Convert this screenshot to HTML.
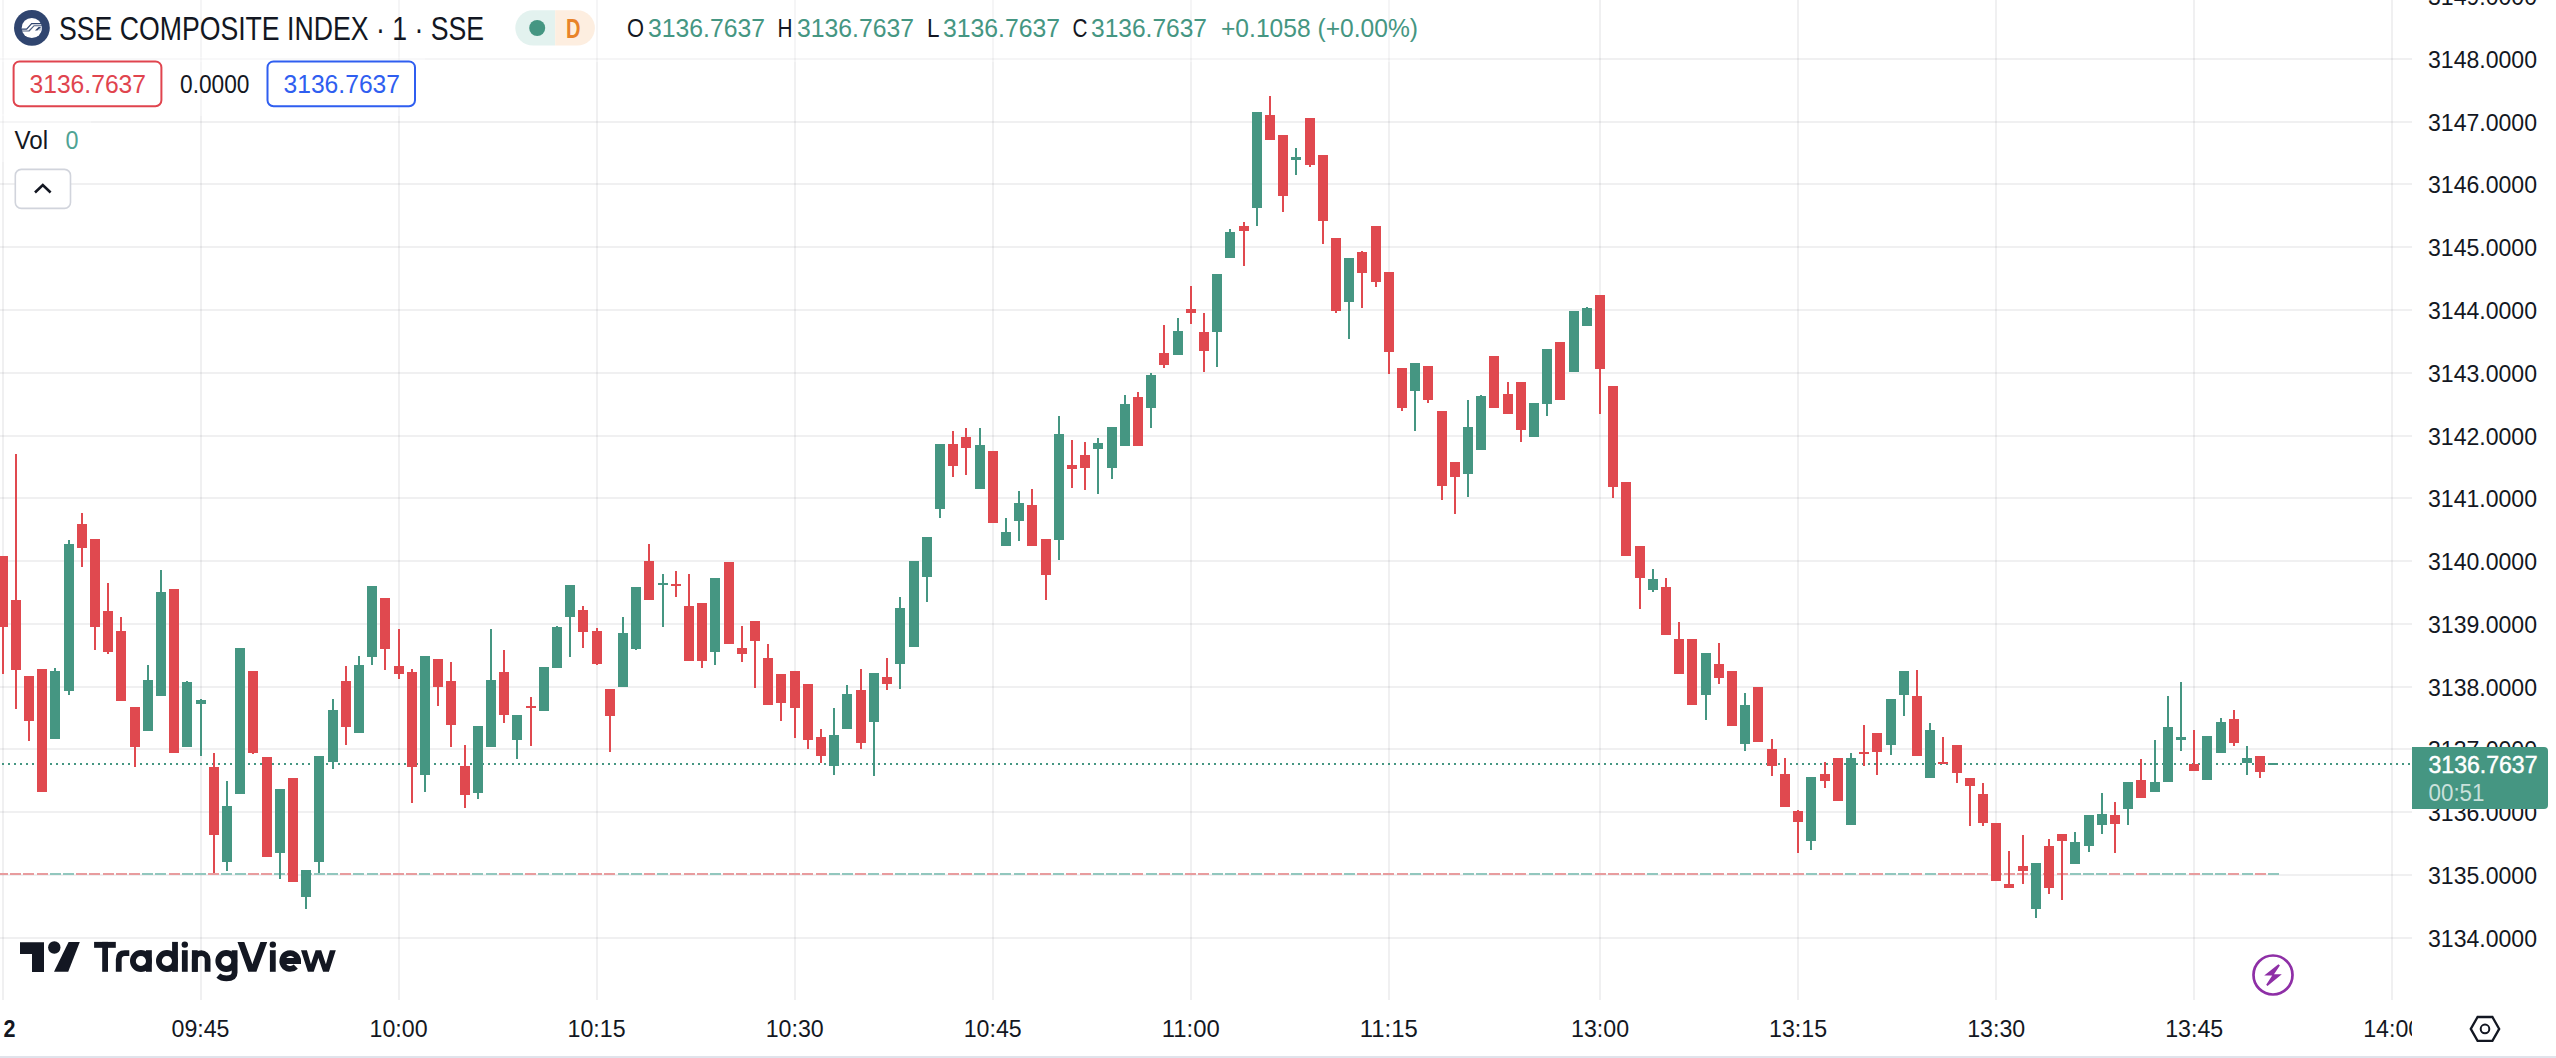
<!DOCTYPE html>
<html><head><meta charset="utf-8">
<style>
html,body{margin:0;padding:0;background:#fff;}
body{width:2556px;height:1058px;overflow:hidden;position:relative;font-family:"Liberation Sans", sans-serif;}
svg{position:absolute;left:0;top:0;}
text{font-family:"Liberation Sans", sans-serif;}
</style></head><body>
<svg width="2556" height="1058" viewBox="0 0 2556 1058">
<g shape-rendering="crispEdges">
<rect x="2" y="0" width="2" height="1000" fill="rgba(42,46,57,0.07)"/>
<rect x="200" y="0" width="2" height="1000" fill="rgba(42,46,57,0.07)"/>
<rect x="398" y="0" width="2" height="1000" fill="rgba(42,46,57,0.07)"/>
<rect x="596" y="0" width="2" height="1000" fill="rgba(42,46,57,0.07)"/>
<rect x="794" y="0" width="2" height="1000" fill="rgba(42,46,57,0.07)"/>
<rect x="992" y="0" width="2" height="1000" fill="rgba(42,46,57,0.07)"/>
<rect x="1190" y="0" width="2" height="1000" fill="rgba(42,46,57,0.07)"/>
<rect x="1388" y="0" width="2" height="1000" fill="rgba(42,46,57,0.07)"/>
<rect x="1599" y="0" width="2" height="1000" fill="rgba(42,46,57,0.07)"/>
<rect x="1797" y="0" width="2" height="1000" fill="rgba(42,46,57,0.07)"/>
<rect x="1995" y="0" width="2" height="1000" fill="rgba(42,46,57,0.07)"/>
<rect x="2193" y="0" width="2" height="1000" fill="rgba(42,46,57,0.07)"/>
<rect x="2391" y="0" width="2" height="1000" fill="rgba(42,46,57,0.07)"/>
<rect x="0" y="937" width="2412" height="2" fill="rgba(42,46,57,0.07)"/>
<rect x="0" y="874" width="2412" height="2" fill="rgba(42,46,57,0.07)"/>
<rect x="0" y="811" width="2412" height="2" fill="rgba(42,46,57,0.07)"/>
<rect x="0" y="748" width="2412" height="2" fill="rgba(42,46,57,0.07)"/>
<rect x="0" y="686" width="2412" height="2" fill="rgba(42,46,57,0.07)"/>
<rect x="0" y="623" width="2412" height="2" fill="rgba(42,46,57,0.07)"/>
<rect x="0" y="560" width="2412" height="2" fill="rgba(42,46,57,0.07)"/>
<rect x="0" y="497" width="2412" height="2" fill="rgba(42,46,57,0.07)"/>
<rect x="0" y="435" width="2412" height="2" fill="rgba(42,46,57,0.07)"/>
<rect x="0" y="372" width="2412" height="2" fill="rgba(42,46,57,0.07)"/>
<rect x="0" y="309" width="2412" height="2" fill="rgba(42,46,57,0.07)"/>
<rect x="0" y="246" width="2412" height="2" fill="rgba(42,46,57,0.07)"/>
<rect x="0" y="183" width="2412" height="2" fill="rgba(42,46,57,0.07)"/>
<rect x="0" y="121" width="2412" height="2" fill="rgba(42,46,57,0.07)"/>
<rect x="0" y="58" width="2412" height="2" fill="rgba(42,46,57,0.07)"/>
<rect x="0" y="-5" width="2412" height="2" fill="rgba(42,46,57,0.07)"/>
<rect x="-3" y="873" width="11" height="2" fill="rgb(232,156,158)"/>
<rect x="10" y="873" width="11" height="2" fill="rgb(232,156,158)"/>
<rect x="23" y="873" width="11" height="2" fill="rgb(232,156,158)"/>
<rect x="37" y="873" width="11" height="2" fill="rgb(232,156,158)"/>
<rect x="50" y="873" width="11" height="2" fill="rgb(146,199,190)"/>
<rect x="63" y="873" width="11" height="2" fill="rgb(146,199,190)"/>
<rect x="76" y="873" width="11" height="2" fill="rgb(232,156,158)"/>
<rect x="89" y="873" width="11" height="2" fill="rgb(232,156,158)"/>
<rect x="103" y="873" width="11" height="2" fill="rgb(232,156,158)"/>
<rect x="116" y="873" width="11" height="2" fill="rgb(232,156,158)"/>
<rect x="129" y="873" width="11" height="2" fill="rgb(232,156,158)"/>
<rect x="142" y="873" width="11" height="2" fill="rgb(146,199,190)"/>
<rect x="155" y="873" width="11" height="2" fill="rgb(146,199,190)"/>
<rect x="169" y="873" width="11" height="2" fill="rgb(232,156,158)"/>
<rect x="182" y="873" width="11" height="2" fill="rgb(146,199,190)"/>
<rect x="195" y="873" width="11" height="2" fill="rgb(146,199,190)"/>
<rect x="208" y="873" width="11" height="2" fill="rgb(232,156,158)"/>
<rect x="221" y="873" width="11" height="2" fill="rgb(146,199,190)"/>
<rect x="235" y="873" width="11" height="2" fill="rgb(146,199,190)"/>
<rect x="248" y="873" width="11" height="2" fill="rgb(232,156,158)"/>
<rect x="261" y="873" width="11" height="2" fill="rgb(232,156,158)"/>
<rect x="274" y="873" width="11" height="2" fill="rgb(146,199,190)"/>
<rect x="287" y="873" width="11" height="2" fill="rgb(232,156,158)"/>
<rect x="301" y="873" width="11" height="2" fill="rgb(146,199,190)"/>
<rect x="314" y="873" width="11" height="2" fill="rgb(146,199,190)"/>
<rect x="327" y="873" width="11" height="2" fill="rgb(146,199,190)"/>
<rect x="340" y="873" width="11" height="2" fill="rgb(232,156,158)"/>
<rect x="353" y="873" width="11" height="2" fill="rgb(146,199,190)"/>
<rect x="367" y="873" width="11" height="2" fill="rgb(146,199,190)"/>
<rect x="380" y="873" width="11" height="2" fill="rgb(232,156,158)"/>
<rect x="393" y="873" width="11" height="2" fill="rgb(232,156,158)"/>
<rect x="406" y="873" width="11" height="2" fill="rgb(232,156,158)"/>
<rect x="419" y="873" width="11" height="2" fill="rgb(146,199,190)"/>
<rect x="433" y="873" width="11" height="2" fill="rgb(232,156,158)"/>
<rect x="446" y="873" width="11" height="2" fill="rgb(232,156,158)"/>
<rect x="459" y="873" width="11" height="2" fill="rgb(232,156,158)"/>
<rect x="472" y="873" width="11" height="2" fill="rgb(146,199,190)"/>
<rect x="486" y="873" width="11" height="2" fill="rgb(146,199,190)"/>
<rect x="499" y="873" width="11" height="2" fill="rgb(232,156,158)"/>
<rect x="512" y="873" width="11" height="2" fill="rgb(146,199,190)"/>
<rect x="525" y="873" width="11" height="2" fill="rgb(232,156,158)"/>
<rect x="538" y="873" width="11" height="2" fill="rgb(146,199,190)"/>
<rect x="552" y="873" width="11" height="2" fill="rgb(146,199,190)"/>
<rect x="565" y="873" width="11" height="2" fill="rgb(146,199,190)"/>
<rect x="578" y="873" width="11" height="2" fill="rgb(232,156,158)"/>
<rect x="591" y="873" width="11" height="2" fill="rgb(232,156,158)"/>
<rect x="604" y="873" width="11" height="2" fill="rgb(232,156,158)"/>
<rect x="618" y="873" width="11" height="2" fill="rgb(146,199,190)"/>
<rect x="631" y="873" width="11" height="2" fill="rgb(146,199,190)"/>
<rect x="644" y="873" width="11" height="2" fill="rgb(232,156,158)"/>
<rect x="657" y="873" width="11" height="2" fill="rgb(146,199,190)"/>
<rect x="670" y="873" width="11" height="2" fill="rgb(232,156,158)"/>
<rect x="684" y="873" width="11" height="2" fill="rgb(232,156,158)"/>
<rect x="697" y="873" width="11" height="2" fill="rgb(232,156,158)"/>
<rect x="710" y="873" width="11" height="2" fill="rgb(146,199,190)"/>
<rect x="723" y="873" width="11" height="2" fill="rgb(232,156,158)"/>
<rect x="736" y="873" width="11" height="2" fill="rgb(232,156,158)"/>
<rect x="750" y="873" width="11" height="2" fill="rgb(232,156,158)"/>
<rect x="763" y="873" width="11" height="2" fill="rgb(232,156,158)"/>
<rect x="776" y="873" width="11" height="2" fill="rgb(232,156,158)"/>
<rect x="789" y="873" width="11" height="2" fill="rgb(232,156,158)"/>
<rect x="802" y="873" width="11" height="2" fill="rgb(232,156,158)"/>
<rect x="816" y="873" width="11" height="2" fill="rgb(232,156,158)"/>
<rect x="829" y="873" width="11" height="2" fill="rgb(146,199,190)"/>
<rect x="842" y="873" width="11" height="2" fill="rgb(146,199,190)"/>
<rect x="855" y="873" width="11" height="2" fill="rgb(232,156,158)"/>
<rect x="868" y="873" width="11" height="2" fill="rgb(146,199,190)"/>
<rect x="882" y="873" width="11" height="2" fill="rgb(232,156,158)"/>
<rect x="895" y="873" width="11" height="2" fill="rgb(146,199,190)"/>
<rect x="908" y="873" width="11" height="2" fill="rgb(146,199,190)"/>
<rect x="921" y="873" width="11" height="2" fill="rgb(146,199,190)"/>
<rect x="934" y="873" width="11" height="2" fill="rgb(146,199,190)"/>
<rect x="948" y="873" width="11" height="2" fill="rgb(232,156,158)"/>
<rect x="961" y="873" width="11" height="2" fill="rgb(232,156,158)"/>
<rect x="974" y="873" width="11" height="2" fill="rgb(146,199,190)"/>
<rect x="987" y="873" width="11" height="2" fill="rgb(232,156,158)"/>
<rect x="1000" y="873" width="11" height="2" fill="rgb(146,199,190)"/>
<rect x="1014" y="873" width="11" height="2" fill="rgb(146,199,190)"/>
<rect x="1027" y="873" width="11" height="2" fill="rgb(232,156,158)"/>
<rect x="1040" y="873" width="11" height="2" fill="rgb(232,156,158)"/>
<rect x="1053" y="873" width="11" height="2" fill="rgb(146,199,190)"/>
<rect x="1066" y="873" width="11" height="2" fill="rgb(232,156,158)"/>
<rect x="1080" y="873" width="11" height="2" fill="rgb(232,156,158)"/>
<rect x="1093" y="873" width="11" height="2" fill="rgb(146,199,190)"/>
<rect x="1106" y="873" width="11" height="2" fill="rgb(146,199,190)"/>
<rect x="1119" y="873" width="11" height="2" fill="rgb(146,199,190)"/>
<rect x="1132" y="873" width="11" height="2" fill="rgb(232,156,158)"/>
<rect x="1146" y="873" width="11" height="2" fill="rgb(146,199,190)"/>
<rect x="1159" y="873" width="11" height="2" fill="rgb(232,156,158)"/>
<rect x="1172" y="873" width="11" height="2" fill="rgb(146,199,190)"/>
<rect x="1185" y="873" width="11" height="2" fill="rgb(232,156,158)"/>
<rect x="1198" y="873" width="11" height="2" fill="rgb(232,156,158)"/>
<rect x="1212" y="873" width="11" height="2" fill="rgb(146,199,190)"/>
<rect x="1225" y="873" width="11" height="2" fill="rgb(146,199,190)"/>
<rect x="1238" y="873" width="11" height="2" fill="rgb(232,156,158)"/>
<rect x="1251" y="873" width="11" height="2" fill="rgb(146,199,190)"/>
<rect x="1264" y="873" width="11" height="2" fill="rgb(232,156,158)"/>
<rect x="1278" y="873" width="11" height="2" fill="rgb(232,156,158)"/>
<rect x="1291" y="873" width="11" height="2" fill="rgb(146,199,190)"/>
<rect x="1304" y="873" width="11" height="2" fill="rgb(232,156,158)"/>
<rect x="1317" y="873" width="11" height="2" fill="rgb(232,156,158)"/>
<rect x="1331" y="873" width="11" height="2" fill="rgb(232,156,158)"/>
<rect x="1344" y="873" width="11" height="2" fill="rgb(146,199,190)"/>
<rect x="1357" y="873" width="11" height="2" fill="rgb(232,156,158)"/>
<rect x="1370" y="873" width="11" height="2" fill="rgb(232,156,158)"/>
<rect x="1383" y="873" width="11" height="2" fill="rgb(232,156,158)"/>
<rect x="1397" y="873" width="11" height="2" fill="rgb(232,156,158)"/>
<rect x="1410" y="873" width="11" height="2" fill="rgb(146,199,190)"/>
<rect x="1423" y="873" width="11" height="2" fill="rgb(232,156,158)"/>
<rect x="1436" y="873" width="11" height="2" fill="rgb(232,156,158)"/>
<rect x="1449" y="873" width="11" height="2" fill="rgb(232,156,158)"/>
<rect x="1463" y="873" width="11" height="2" fill="rgb(146,199,190)"/>
<rect x="1476" y="873" width="11" height="2" fill="rgb(146,199,190)"/>
<rect x="1489" y="873" width="11" height="2" fill="rgb(232,156,158)"/>
<rect x="1502" y="873" width="11" height="2" fill="rgb(232,156,158)"/>
<rect x="1515" y="873" width="11" height="2" fill="rgb(232,156,158)"/>
<rect x="1529" y="873" width="11" height="2" fill="rgb(146,199,190)"/>
<rect x="1542" y="873" width="11" height="2" fill="rgb(146,199,190)"/>
<rect x="1555" y="873" width="11" height="2" fill="rgb(232,156,158)"/>
<rect x="1568" y="873" width="11" height="2" fill="rgb(146,199,190)"/>
<rect x="1581" y="873" width="11" height="2" fill="rgb(146,199,190)"/>
<rect x="1595" y="873" width="11" height="2" fill="rgb(232,156,158)"/>
<rect x="1608" y="873" width="11" height="2" fill="rgb(232,156,158)"/>
<rect x="1621" y="873" width="11" height="2" fill="rgb(232,156,158)"/>
<rect x="1634" y="873" width="11" height="2" fill="rgb(232,156,158)"/>
<rect x="1647" y="873" width="11" height="2" fill="rgb(146,199,190)"/>
<rect x="1661" y="873" width="11" height="2" fill="rgb(232,156,158)"/>
<rect x="1674" y="873" width="11" height="2" fill="rgb(232,156,158)"/>
<rect x="1687" y="873" width="11" height="2" fill="rgb(232,156,158)"/>
<rect x="1700" y="873" width="11" height="2" fill="rgb(146,199,190)"/>
<rect x="1713" y="873" width="11" height="2" fill="rgb(232,156,158)"/>
<rect x="1727" y="873" width="11" height="2" fill="rgb(232,156,158)"/>
<rect x="1740" y="873" width="11" height="2" fill="rgb(146,199,190)"/>
<rect x="1753" y="873" width="11" height="2" fill="rgb(232,156,158)"/>
<rect x="1766" y="873" width="11" height="2" fill="rgb(232,156,158)"/>
<rect x="1779" y="873" width="11" height="2" fill="rgb(232,156,158)"/>
<rect x="1793" y="873" width="11" height="2" fill="rgb(232,156,158)"/>
<rect x="1806" y="873" width="11" height="2" fill="rgb(146,199,190)"/>
<rect x="1819" y="873" width="11" height="2" fill="rgb(232,156,158)"/>
<rect x="1832" y="873" width="11" height="2" fill="rgb(232,156,158)"/>
<rect x="1845" y="873" width="11" height="2" fill="rgb(146,199,190)"/>
<rect x="1859" y="873" width="11" height="2" fill="rgb(232,156,158)"/>
<rect x="1872" y="873" width="11" height="2" fill="rgb(232,156,158)"/>
<rect x="1885" y="873" width="11" height="2" fill="rgb(146,199,190)"/>
<rect x="1898" y="873" width="11" height="2" fill="rgb(146,199,190)"/>
<rect x="1911" y="873" width="11" height="2" fill="rgb(232,156,158)"/>
<rect x="1925" y="873" width="11" height="2" fill="rgb(146,199,190)"/>
<rect x="1938" y="873" width="11" height="2" fill="rgb(232,156,158)"/>
<rect x="1951" y="873" width="11" height="2" fill="rgb(232,156,158)"/>
<rect x="1964" y="873" width="11" height="2" fill="rgb(232,156,158)"/>
<rect x="1977" y="873" width="11" height="2" fill="rgb(232,156,158)"/>
<rect x="1991" y="873" width="11" height="2" fill="rgb(232,156,158)"/>
<rect x="2004" y="873" width="11" height="2" fill="rgb(232,156,158)"/>
<rect x="2017" y="873" width="11" height="2" fill="rgb(232,156,158)"/>
<rect x="2030" y="873" width="11" height="2" fill="rgb(146,199,190)"/>
<rect x="2043" y="873" width="11" height="2" fill="rgb(232,156,158)"/>
<rect x="2057" y="873" width="11" height="2" fill="rgb(232,156,158)"/>
<rect x="2070" y="873" width="11" height="2" fill="rgb(146,199,190)"/>
<rect x="2083" y="873" width="11" height="2" fill="rgb(146,199,190)"/>
<rect x="2096" y="873" width="11" height="2" fill="rgb(146,199,190)"/>
<rect x="2109" y="873" width="11" height="2" fill="rgb(232,156,158)"/>
<rect x="2123" y="873" width="11" height="2" fill="rgb(146,199,190)"/>
<rect x="2136" y="873" width="11" height="2" fill="rgb(232,156,158)"/>
<rect x="2149" y="873" width="11" height="2" fill="rgb(146,199,190)"/>
<rect x="2162" y="873" width="11" height="2" fill="rgb(146,199,190)"/>
<rect x="2175" y="873" width="11" height="2" fill="rgb(146,199,190)"/>
<rect x="2189" y="873" width="11" height="2" fill="rgb(232,156,158)"/>
<rect x="2202" y="873" width="11" height="2" fill="rgb(146,199,190)"/>
<rect x="2215" y="873" width="11" height="2" fill="rgb(146,199,190)"/>
<rect x="2228" y="873" width="11" height="2" fill="rgb(232,156,158)"/>
<rect x="2242" y="873" width="11" height="2" fill="rgb(146,199,190)"/>
<rect x="2255" y="873" width="11" height="2" fill="rgb(232,156,158)"/>
<rect x="2268" y="873" width="11" height="2" fill="rgb(146,199,190)"/>
<line x1="0" y1="764" x2="2412" y2="764" stroke="rgb(69,150,130)" stroke-width="2" stroke-dasharray="2 4" stroke-dashoffset="4"/>
<rect x="2" y="556" width="2" height="118" fill="rgb(224,73,79)"/>
<rect x="-2" y="556" width="10" height="71" fill="rgb(224,73,79)"/>
<rect x="15" y="454" width="2" height="255" fill="rgb(224,73,79)"/>
<rect x="11" y="600" width="10" height="70" fill="rgb(224,73,79)"/>
<rect x="28" y="676" width="2" height="65" fill="rgb(224,73,79)"/>
<rect x="24" y="676" width="10" height="45" fill="rgb(224,73,79)"/>
<rect x="41" y="669" width="2" height="123" fill="rgb(224,73,79)"/>
<rect x="37" y="669" width="10" height="123" fill="rgb(224,73,79)"/>
<rect x="54" y="668" width="2" height="71" fill="rgb(69,150,130)"/>
<rect x="50" y="671" width="10" height="68" fill="rgb(69,150,130)"/>
<rect x="68" y="540" width="2" height="155" fill="rgb(69,150,130)"/>
<rect x="64" y="544" width="10" height="147" fill="rgb(69,150,130)"/>
<rect x="81" y="513" width="2" height="54" fill="rgb(224,73,79)"/>
<rect x="77" y="524" width="10" height="24" fill="rgb(224,73,79)"/>
<rect x="94" y="539" width="2" height="111" fill="rgb(224,73,79)"/>
<rect x="90" y="539" width="10" height="88" fill="rgb(224,73,79)"/>
<rect x="107" y="583" width="2" height="71" fill="rgb(224,73,79)"/>
<rect x="103" y="611" width="10" height="41" fill="rgb(224,73,79)"/>
<rect x="120" y="617" width="2" height="84" fill="rgb(224,73,79)"/>
<rect x="116" y="631" width="10" height="70" fill="rgb(224,73,79)"/>
<rect x="134" y="707" width="2" height="60" fill="rgb(224,73,79)"/>
<rect x="130" y="707" width="10" height="40" fill="rgb(224,73,79)"/>
<rect x="147" y="665" width="2" height="66" fill="rgb(69,150,130)"/>
<rect x="143" y="680" width="10" height="51" fill="rgb(69,150,130)"/>
<rect x="160" y="570" width="2" height="126" fill="rgb(69,150,130)"/>
<rect x="156" y="592" width="10" height="104" fill="rgb(69,150,130)"/>
<rect x="173" y="589" width="2" height="164" fill="rgb(224,73,79)"/>
<rect x="169" y="589" width="10" height="164" fill="rgb(224,73,79)"/>
<rect x="186" y="681" width="2" height="66" fill="rgb(69,150,130)"/>
<rect x="182" y="682" width="10" height="65" fill="rgb(69,150,130)"/>
<rect x="200" y="699" width="2" height="57" fill="rgb(69,150,130)"/>
<rect x="196" y="700" width="10" height="4" fill="rgb(69,150,130)"/>
<rect x="213" y="753" width="2" height="120" fill="rgb(224,73,79)"/>
<rect x="209" y="767" width="10" height="68" fill="rgb(224,73,79)"/>
<rect x="226" y="781" width="2" height="90" fill="rgb(69,150,130)"/>
<rect x="222" y="806" width="10" height="56" fill="rgb(69,150,130)"/>
<rect x="239" y="648" width="2" height="146" fill="rgb(69,150,130)"/>
<rect x="235" y="648" width="10" height="146" fill="rgb(69,150,130)"/>
<rect x="252" y="671" width="2" height="83" fill="rgb(224,73,79)"/>
<rect x="248" y="671" width="10" height="82" fill="rgb(224,73,79)"/>
<rect x="266" y="757" width="2" height="100" fill="rgb(224,73,79)"/>
<rect x="262" y="757" width="10" height="100" fill="rgb(224,73,79)"/>
<rect x="279" y="789" width="2" height="90" fill="rgb(69,150,130)"/>
<rect x="275" y="789" width="10" height="64" fill="rgb(69,150,130)"/>
<rect x="292" y="778" width="2" height="104" fill="rgb(224,73,79)"/>
<rect x="288" y="778" width="10" height="104" fill="rgb(224,73,79)"/>
<rect x="305" y="870" width="2" height="39" fill="rgb(69,150,130)"/>
<rect x="301" y="870" width="10" height="27" fill="rgb(69,150,130)"/>
<rect x="318" y="756" width="2" height="117" fill="rgb(69,150,130)"/>
<rect x="314" y="756" width="10" height="106" fill="rgb(69,150,130)"/>
<rect x="332" y="699" width="2" height="70" fill="rgb(69,150,130)"/>
<rect x="328" y="710" width="10" height="52" fill="rgb(69,150,130)"/>
<rect x="345" y="666" width="2" height="79" fill="rgb(224,73,79)"/>
<rect x="341" y="681" width="10" height="46" fill="rgb(224,73,79)"/>
<rect x="358" y="656" width="2" height="77" fill="rgb(69,150,130)"/>
<rect x="354" y="665" width="10" height="68" fill="rgb(69,150,130)"/>
<rect x="371" y="586" width="2" height="79" fill="rgb(69,150,130)"/>
<rect x="367" y="586" width="10" height="71" fill="rgb(69,150,130)"/>
<rect x="384" y="598" width="2" height="72" fill="rgb(224,73,79)"/>
<rect x="380" y="598" width="10" height="51" fill="rgb(224,73,79)"/>
<rect x="398" y="629" width="2" height="50" fill="rgb(224,73,79)"/>
<rect x="394" y="666" width="10" height="8" fill="rgb(224,73,79)"/>
<rect x="411" y="669" width="2" height="134" fill="rgb(224,73,79)"/>
<rect x="407" y="672" width="10" height="95" fill="rgb(224,73,79)"/>
<rect x="424" y="656" width="2" height="136" fill="rgb(69,150,130)"/>
<rect x="420" y="656" width="10" height="119" fill="rgb(69,150,130)"/>
<rect x="437" y="659" width="2" height="47" fill="rgb(224,73,79)"/>
<rect x="433" y="659" width="10" height="28" fill="rgb(224,73,79)"/>
<rect x="450" y="662" width="2" height="85" fill="rgb(224,73,79)"/>
<rect x="446" y="681" width="10" height="44" fill="rgb(224,73,79)"/>
<rect x="464" y="745" width="2" height="63" fill="rgb(224,73,79)"/>
<rect x="460" y="766" width="10" height="29" fill="rgb(224,73,79)"/>
<rect x="477" y="726" width="2" height="73" fill="rgb(69,150,130)"/>
<rect x="473" y="726" width="10" height="67" fill="rgb(69,150,130)"/>
<rect x="490" y="629" width="2" height="118" fill="rgb(69,150,130)"/>
<rect x="486" y="680" width="10" height="67" fill="rgb(69,150,130)"/>
<rect x="503" y="650" width="2" height="73" fill="rgb(224,73,79)"/>
<rect x="499" y="672" width="10" height="43" fill="rgb(224,73,79)"/>
<rect x="516" y="715" width="2" height="44" fill="rgb(69,150,130)"/>
<rect x="512" y="715" width="10" height="25" fill="rgb(69,150,130)"/>
<rect x="530" y="697" width="2" height="49" fill="rgb(224,73,79)"/>
<rect x="526" y="706" width="10" height="2" fill="rgb(224,73,79)"/>
<rect x="543" y="667" width="2" height="44" fill="rgb(69,150,130)"/>
<rect x="539" y="667" width="10" height="44" fill="rgb(69,150,130)"/>
<rect x="556" y="626" width="2" height="42" fill="rgb(69,150,130)"/>
<rect x="552" y="627" width="10" height="41" fill="rgb(69,150,130)"/>
<rect x="569" y="585" width="2" height="72" fill="rgb(69,150,130)"/>
<rect x="565" y="585" width="10" height="32" fill="rgb(69,150,130)"/>
<rect x="582" y="606" width="2" height="42" fill="rgb(224,73,79)"/>
<rect x="578" y="610" width="10" height="22" fill="rgb(224,73,79)"/>
<rect x="596" y="628" width="2" height="37" fill="rgb(224,73,79)"/>
<rect x="592" y="631" width="10" height="33" fill="rgb(224,73,79)"/>
<rect x="609" y="689" width="2" height="63" fill="rgb(224,73,79)"/>
<rect x="605" y="689" width="10" height="27" fill="rgb(224,73,79)"/>
<rect x="622" y="617" width="2" height="70" fill="rgb(69,150,130)"/>
<rect x="618" y="633" width="10" height="54" fill="rgb(69,150,130)"/>
<rect x="635" y="587" width="2" height="63" fill="rgb(69,150,130)"/>
<rect x="631" y="587" width="10" height="62" fill="rgb(69,150,130)"/>
<rect x="648" y="544" width="2" height="56" fill="rgb(224,73,79)"/>
<rect x="644" y="561" width="10" height="39" fill="rgb(224,73,79)"/>
<rect x="662" y="574" width="2" height="53" fill="rgb(69,150,130)"/>
<rect x="658" y="583" width="10" height="2" fill="rgb(69,150,130)"/>
<rect x="675" y="571" width="2" height="26" fill="rgb(224,73,79)"/>
<rect x="671" y="584" width="10" height="2" fill="rgb(224,73,79)"/>
<rect x="688" y="574" width="2" height="87" fill="rgb(224,73,79)"/>
<rect x="684" y="606" width="10" height="55" fill="rgb(224,73,79)"/>
<rect x="701" y="603" width="2" height="65" fill="rgb(224,73,79)"/>
<rect x="697" y="603" width="10" height="58" fill="rgb(224,73,79)"/>
<rect x="714" y="578" width="2" height="87" fill="rgb(69,150,130)"/>
<rect x="710" y="578" width="10" height="74" fill="rgb(69,150,130)"/>
<rect x="728" y="562" width="2" height="82" fill="rgb(224,73,79)"/>
<rect x="724" y="562" width="10" height="82" fill="rgb(224,73,79)"/>
<rect x="741" y="626" width="2" height="36" fill="rgb(224,73,79)"/>
<rect x="737" y="648" width="10" height="6" fill="rgb(224,73,79)"/>
<rect x="754" y="621" width="2" height="67" fill="rgb(224,73,79)"/>
<rect x="750" y="621" width="10" height="20" fill="rgb(224,73,79)"/>
<rect x="767" y="644" width="2" height="61" fill="rgb(224,73,79)"/>
<rect x="763" y="658" width="10" height="47" fill="rgb(224,73,79)"/>
<rect x="780" y="674" width="2" height="47" fill="rgb(224,73,79)"/>
<rect x="776" y="674" width="10" height="29" fill="rgb(224,73,79)"/>
<rect x="794" y="671" width="2" height="67" fill="rgb(224,73,79)"/>
<rect x="790" y="671" width="10" height="37" fill="rgb(224,73,79)"/>
<rect x="807" y="684" width="2" height="65" fill="rgb(224,73,79)"/>
<rect x="803" y="684" width="10" height="56" fill="rgb(224,73,79)"/>
<rect x="820" y="729" width="2" height="34" fill="rgb(224,73,79)"/>
<rect x="816" y="737" width="10" height="19" fill="rgb(224,73,79)"/>
<rect x="833" y="708" width="2" height="67" fill="rgb(69,150,130)"/>
<rect x="829" y="735" width="10" height="31" fill="rgb(69,150,130)"/>
<rect x="846" y="685" width="2" height="44" fill="rgb(69,150,130)"/>
<rect x="842" y="694" width="10" height="35" fill="rgb(69,150,130)"/>
<rect x="860" y="669" width="2" height="80" fill="rgb(224,73,79)"/>
<rect x="856" y="690" width="10" height="53" fill="rgb(224,73,79)"/>
<rect x="873" y="673" width="2" height="103" fill="rgb(69,150,130)"/>
<rect x="869" y="673" width="10" height="49" fill="rgb(69,150,130)"/>
<rect x="886" y="658" width="2" height="32" fill="rgb(224,73,79)"/>
<rect x="882" y="677" width="10" height="7" fill="rgb(224,73,79)"/>
<rect x="899" y="597" width="2" height="92" fill="rgb(69,150,130)"/>
<rect x="895" y="608" width="10" height="56" fill="rgb(69,150,130)"/>
<rect x="913" y="561" width="2" height="86" fill="rgb(69,150,130)"/>
<rect x="909" y="561" width="10" height="86" fill="rgb(69,150,130)"/>
<rect x="926" y="537" width="2" height="65" fill="rgb(69,150,130)"/>
<rect x="922" y="537" width="10" height="40" fill="rgb(69,150,130)"/>
<rect x="939" y="444" width="2" height="74" fill="rgb(69,150,130)"/>
<rect x="935" y="444" width="10" height="65" fill="rgb(69,150,130)"/>
<rect x="952" y="431" width="2" height="46" fill="rgb(224,73,79)"/>
<rect x="948" y="444" width="10" height="22" fill="rgb(224,73,79)"/>
<rect x="965" y="428" width="2" height="47" fill="rgb(224,73,79)"/>
<rect x="961" y="437" width="10" height="11" fill="rgb(224,73,79)"/>
<rect x="979" y="428" width="2" height="61" fill="rgb(69,150,130)"/>
<rect x="975" y="445" width="10" height="44" fill="rgb(69,150,130)"/>
<rect x="992" y="451" width="2" height="72" fill="rgb(224,73,79)"/>
<rect x="988" y="451" width="10" height="72" fill="rgb(224,73,79)"/>
<rect x="1005" y="518" width="2" height="28" fill="rgb(69,150,130)"/>
<rect x="1001" y="532" width="10" height="14" fill="rgb(69,150,130)"/>
<rect x="1018" y="491" width="2" height="50" fill="rgb(69,150,130)"/>
<rect x="1014" y="503" width="10" height="18" fill="rgb(69,150,130)"/>
<rect x="1031" y="489" width="2" height="57" fill="rgb(224,73,79)"/>
<rect x="1027" y="505" width="10" height="41" fill="rgb(224,73,79)"/>
<rect x="1045" y="539" width="2" height="61" fill="rgb(224,73,79)"/>
<rect x="1041" y="539" width="10" height="36" fill="rgb(224,73,79)"/>
<rect x="1058" y="416" width="2" height="144" fill="rgb(69,150,130)"/>
<rect x="1054" y="434" width="10" height="106" fill="rgb(69,150,130)"/>
<rect x="1071" y="440" width="2" height="48" fill="rgb(224,73,79)"/>
<rect x="1067" y="465" width="10" height="4" fill="rgb(224,73,79)"/>
<rect x="1084" y="442" width="2" height="48" fill="rgb(224,73,79)"/>
<rect x="1080" y="455" width="10" height="13" fill="rgb(224,73,79)"/>
<rect x="1097" y="438" width="2" height="56" fill="rgb(69,150,130)"/>
<rect x="1093" y="443" width="10" height="6" fill="rgb(69,150,130)"/>
<rect x="1111" y="427" width="2" height="52" fill="rgb(69,150,130)"/>
<rect x="1107" y="427" width="10" height="41" fill="rgb(69,150,130)"/>
<rect x="1124" y="395" width="2" height="51" fill="rgb(69,150,130)"/>
<rect x="1120" y="404" width="10" height="42" fill="rgb(69,150,130)"/>
<rect x="1137" y="392" width="2" height="54" fill="rgb(224,73,79)"/>
<rect x="1133" y="397" width="10" height="49" fill="rgb(224,73,79)"/>
<rect x="1150" y="373" width="2" height="55" fill="rgb(69,150,130)"/>
<rect x="1146" y="375" width="10" height="33" fill="rgb(69,150,130)"/>
<rect x="1163" y="325" width="2" height="43" fill="rgb(224,73,79)"/>
<rect x="1159" y="353" width="10" height="12" fill="rgb(224,73,79)"/>
<rect x="1177" y="318" width="2" height="37" fill="rgb(69,150,130)"/>
<rect x="1173" y="331" width="10" height="24" fill="rgb(69,150,130)"/>
<rect x="1190" y="286" width="2" height="38" fill="rgb(224,73,79)"/>
<rect x="1186" y="309" width="10" height="4" fill="rgb(224,73,79)"/>
<rect x="1203" y="313" width="2" height="59" fill="rgb(224,73,79)"/>
<rect x="1199" y="332" width="10" height="19" fill="rgb(224,73,79)"/>
<rect x="1216" y="274" width="2" height="93" fill="rgb(69,150,130)"/>
<rect x="1212" y="274" width="10" height="58" fill="rgb(69,150,130)"/>
<rect x="1229" y="229" width="2" height="29" fill="rgb(69,150,130)"/>
<rect x="1225" y="232" width="10" height="26" fill="rgb(69,150,130)"/>
<rect x="1243" y="222" width="2" height="44" fill="rgb(224,73,79)"/>
<rect x="1239" y="226" width="10" height="5" fill="rgb(224,73,79)"/>
<rect x="1256" y="112" width="2" height="114" fill="rgb(69,150,130)"/>
<rect x="1252" y="112" width="10" height="96" fill="rgb(69,150,130)"/>
<rect x="1269" y="96" width="2" height="44" fill="rgb(224,73,79)"/>
<rect x="1265" y="115" width="10" height="25" fill="rgb(224,73,79)"/>
<rect x="1282" y="135" width="2" height="77" fill="rgb(224,73,79)"/>
<rect x="1278" y="135" width="10" height="61" fill="rgb(224,73,79)"/>
<rect x="1295" y="148" width="2" height="27" fill="rgb(69,150,130)"/>
<rect x="1291" y="157" width="10" height="3" fill="rgb(69,150,130)"/>
<rect x="1309" y="118" width="2" height="49" fill="rgb(224,73,79)"/>
<rect x="1305" y="118" width="10" height="47" fill="rgb(224,73,79)"/>
<rect x="1322" y="155" width="2" height="89" fill="rgb(224,73,79)"/>
<rect x="1318" y="155" width="10" height="66" fill="rgb(224,73,79)"/>
<rect x="1335" y="238" width="2" height="75" fill="rgb(224,73,79)"/>
<rect x="1331" y="238" width="10" height="73" fill="rgb(224,73,79)"/>
<rect x="1348" y="258" width="2" height="81" fill="rgb(69,150,130)"/>
<rect x="1344" y="258" width="10" height="44" fill="rgb(69,150,130)"/>
<rect x="1361" y="251" width="2" height="57" fill="rgb(224,73,79)"/>
<rect x="1357" y="252" width="10" height="21" fill="rgb(224,73,79)"/>
<rect x="1375" y="226" width="2" height="61" fill="rgb(224,73,79)"/>
<rect x="1371" y="226" width="10" height="56" fill="rgb(224,73,79)"/>
<rect x="1388" y="272" width="2" height="102" fill="rgb(224,73,79)"/>
<rect x="1384" y="272" width="10" height="80" fill="rgb(224,73,79)"/>
<rect x="1401" y="368" width="2" height="43" fill="rgb(224,73,79)"/>
<rect x="1397" y="368" width="10" height="40" fill="rgb(224,73,79)"/>
<rect x="1414" y="363" width="2" height="68" fill="rgb(69,150,130)"/>
<rect x="1410" y="363" width="10" height="28" fill="rgb(69,150,130)"/>
<rect x="1427" y="366" width="2" height="37" fill="rgb(224,73,79)"/>
<rect x="1423" y="366" width="10" height="34" fill="rgb(224,73,79)"/>
<rect x="1441" y="411" width="2" height="89" fill="rgb(224,73,79)"/>
<rect x="1437" y="411" width="10" height="75" fill="rgb(224,73,79)"/>
<rect x="1454" y="462" width="2" height="52" fill="rgb(224,73,79)"/>
<rect x="1450" y="462" width="10" height="15" fill="rgb(224,73,79)"/>
<rect x="1467" y="400" width="2" height="97" fill="rgb(69,150,130)"/>
<rect x="1463" y="427" width="10" height="47" fill="rgb(69,150,130)"/>
<rect x="1480" y="395" width="2" height="55" fill="rgb(69,150,130)"/>
<rect x="1476" y="396" width="10" height="54" fill="rgb(69,150,130)"/>
<rect x="1493" y="356" width="2" height="52" fill="rgb(224,73,79)"/>
<rect x="1489" y="356" width="10" height="52" fill="rgb(224,73,79)"/>
<rect x="1507" y="382" width="2" height="32" fill="rgb(224,73,79)"/>
<rect x="1503" y="394" width="10" height="20" fill="rgb(224,73,79)"/>
<rect x="1520" y="382" width="2" height="60" fill="rgb(224,73,79)"/>
<rect x="1516" y="382" width="10" height="48" fill="rgb(224,73,79)"/>
<rect x="1533" y="403" width="2" height="34" fill="rgb(69,150,130)"/>
<rect x="1529" y="403" width="10" height="34" fill="rgb(69,150,130)"/>
<rect x="1546" y="349" width="2" height="67" fill="rgb(69,150,130)"/>
<rect x="1542" y="349" width="10" height="55" fill="rgb(69,150,130)"/>
<rect x="1559" y="342" width="2" height="58" fill="rgb(224,73,79)"/>
<rect x="1555" y="342" width="10" height="58" fill="rgb(224,73,79)"/>
<rect x="1573" y="311" width="2" height="61" fill="rgb(69,150,130)"/>
<rect x="1569" y="311" width="10" height="61" fill="rgb(69,150,130)"/>
<rect x="1586" y="307" width="2" height="19" fill="rgb(69,150,130)"/>
<rect x="1582" y="308" width="10" height="18" fill="rgb(69,150,130)"/>
<rect x="1599" y="295" width="2" height="119" fill="rgb(224,73,79)"/>
<rect x="1595" y="295" width="10" height="74" fill="rgb(224,73,79)"/>
<rect x="1612" y="386" width="2" height="112" fill="rgb(224,73,79)"/>
<rect x="1608" y="386" width="10" height="101" fill="rgb(224,73,79)"/>
<rect x="1625" y="482" width="2" height="74" fill="rgb(224,73,79)"/>
<rect x="1621" y="482" width="10" height="74" fill="rgb(224,73,79)"/>
<rect x="1639" y="546" width="2" height="63" fill="rgb(224,73,79)"/>
<rect x="1635" y="546" width="10" height="32" fill="rgb(224,73,79)"/>
<rect x="1652" y="569" width="2" height="23" fill="rgb(69,150,130)"/>
<rect x="1648" y="579" width="10" height="11" fill="rgb(69,150,130)"/>
<rect x="1665" y="578" width="2" height="57" fill="rgb(224,73,79)"/>
<rect x="1661" y="587" width="10" height="48" fill="rgb(224,73,79)"/>
<rect x="1678" y="622" width="2" height="52" fill="rgb(224,73,79)"/>
<rect x="1674" y="639" width="10" height="35" fill="rgb(224,73,79)"/>
<rect x="1691" y="639" width="2" height="66" fill="rgb(224,73,79)"/>
<rect x="1687" y="639" width="10" height="66" fill="rgb(224,73,79)"/>
<rect x="1705" y="653" width="2" height="67" fill="rgb(69,150,130)"/>
<rect x="1701" y="653" width="10" height="42" fill="rgb(69,150,130)"/>
<rect x="1718" y="643" width="2" height="41" fill="rgb(224,73,79)"/>
<rect x="1714" y="664" width="10" height="14" fill="rgb(224,73,79)"/>
<rect x="1731" y="671" width="2" height="55" fill="rgb(224,73,79)"/>
<rect x="1727" y="671" width="10" height="55" fill="rgb(224,73,79)"/>
<rect x="1744" y="693" width="2" height="58" fill="rgb(69,150,130)"/>
<rect x="1740" y="705" width="10" height="39" fill="rgb(69,150,130)"/>
<rect x="1757" y="687" width="2" height="55" fill="rgb(224,73,79)"/>
<rect x="1753" y="687" width="10" height="55" fill="rgb(224,73,79)"/>
<rect x="1771" y="739" width="2" height="37" fill="rgb(224,73,79)"/>
<rect x="1767" y="749" width="10" height="17" fill="rgb(224,73,79)"/>
<rect x="1784" y="758" width="2" height="49" fill="rgb(224,73,79)"/>
<rect x="1780" y="774" width="10" height="33" fill="rgb(224,73,79)"/>
<rect x="1797" y="810" width="2" height="43" fill="rgb(224,73,79)"/>
<rect x="1793" y="811" width="10" height="11" fill="rgb(224,73,79)"/>
<rect x="1810" y="777" width="2" height="73" fill="rgb(69,150,130)"/>
<rect x="1806" y="777" width="10" height="64" fill="rgb(69,150,130)"/>
<rect x="1824" y="762" width="2" height="26" fill="rgb(224,73,79)"/>
<rect x="1820" y="774" width="10" height="7" fill="rgb(224,73,79)"/>
<rect x="1837" y="758" width="2" height="43" fill="rgb(224,73,79)"/>
<rect x="1833" y="758" width="10" height="43" fill="rgb(224,73,79)"/>
<rect x="1850" y="753" width="2" height="72" fill="rgb(69,150,130)"/>
<rect x="1846" y="758" width="10" height="67" fill="rgb(69,150,130)"/>
<rect x="1863" y="725" width="2" height="41" fill="rgb(224,73,79)"/>
<rect x="1859" y="752" width="10" height="2" fill="rgb(224,73,79)"/>
<rect x="1876" y="733" width="2" height="42" fill="rgb(224,73,79)"/>
<rect x="1872" y="733" width="10" height="19" fill="rgb(224,73,79)"/>
<rect x="1890" y="699" width="2" height="56" fill="rgb(69,150,130)"/>
<rect x="1886" y="699" width="10" height="46" fill="rgb(69,150,130)"/>
<rect x="1903" y="671" width="2" height="45" fill="rgb(69,150,130)"/>
<rect x="1899" y="671" width="10" height="24" fill="rgb(69,150,130)"/>
<rect x="1916" y="670" width="2" height="86" fill="rgb(224,73,79)"/>
<rect x="1912" y="696" width="10" height="60" fill="rgb(224,73,79)"/>
<rect x="1929" y="723" width="2" height="55" fill="rgb(69,150,130)"/>
<rect x="1925" y="730" width="10" height="48" fill="rgb(69,150,130)"/>
<rect x="1942" y="737" width="2" height="27" fill="rgb(224,73,79)"/>
<rect x="1938" y="762" width="10" height="2" fill="rgb(224,73,79)"/>
<rect x="1956" y="745" width="2" height="38" fill="rgb(224,73,79)"/>
<rect x="1952" y="745" width="10" height="28" fill="rgb(224,73,79)"/>
<rect x="1969" y="778" width="2" height="48" fill="rgb(224,73,79)"/>
<rect x="1965" y="778" width="10" height="8" fill="rgb(224,73,79)"/>
<rect x="1982" y="783" width="2" height="43" fill="rgb(224,73,79)"/>
<rect x="1978" y="794" width="10" height="29" fill="rgb(224,73,79)"/>
<rect x="1995" y="823" width="2" height="58" fill="rgb(224,73,79)"/>
<rect x="1991" y="823" width="10" height="58" fill="rgb(224,73,79)"/>
<rect x="2008" y="851" width="2" height="37" fill="rgb(224,73,79)"/>
<rect x="2004" y="884" width="10" height="4" fill="rgb(224,73,79)"/>
<rect x="2022" y="835" width="2" height="49" fill="rgb(224,73,79)"/>
<rect x="2018" y="866" width="10" height="5" fill="rgb(224,73,79)"/>
<rect x="2035" y="863" width="2" height="55" fill="rgb(69,150,130)"/>
<rect x="2031" y="863" width="10" height="46" fill="rgb(69,150,130)"/>
<rect x="2048" y="839" width="2" height="55" fill="rgb(224,73,79)"/>
<rect x="2044" y="846" width="10" height="42" fill="rgb(224,73,79)"/>
<rect x="2061" y="834" width="2" height="66" fill="rgb(224,73,79)"/>
<rect x="2057" y="834" width="10" height="7" fill="rgb(224,73,79)"/>
<rect x="2074" y="832" width="2" height="32" fill="rgb(69,150,130)"/>
<rect x="2070" y="842" width="10" height="22" fill="rgb(69,150,130)"/>
<rect x="2088" y="815" width="2" height="37" fill="rgb(69,150,130)"/>
<rect x="2084" y="815" width="10" height="31" fill="rgb(69,150,130)"/>
<rect x="2101" y="793" width="2" height="41" fill="rgb(69,150,130)"/>
<rect x="2097" y="814" width="10" height="11" fill="rgb(69,150,130)"/>
<rect x="2114" y="802" width="2" height="51" fill="rgb(224,73,79)"/>
<rect x="2110" y="815" width="10" height="9" fill="rgb(224,73,79)"/>
<rect x="2127" y="782" width="2" height="43" fill="rgb(69,150,130)"/>
<rect x="2123" y="782" width="10" height="27" fill="rgb(69,150,130)"/>
<rect x="2140" y="759" width="2" height="39" fill="rgb(224,73,79)"/>
<rect x="2136" y="780" width="10" height="18" fill="rgb(224,73,79)"/>
<rect x="2154" y="740" width="2" height="52" fill="rgb(69,150,130)"/>
<rect x="2150" y="782" width="10" height="10" fill="rgb(69,150,130)"/>
<rect x="2167" y="696" width="2" height="86" fill="rgb(69,150,130)"/>
<rect x="2163" y="727" width="10" height="55" fill="rgb(69,150,130)"/>
<rect x="2180" y="682" width="2" height="69" fill="rgb(69,150,130)"/>
<rect x="2176" y="737" width="10" height="3" fill="rgb(69,150,130)"/>
<rect x="2193" y="730" width="2" height="41" fill="rgb(224,73,79)"/>
<rect x="2189" y="764" width="10" height="7" fill="rgb(224,73,79)"/>
<rect x="2206" y="736" width="2" height="44" fill="rgb(69,150,130)"/>
<rect x="2202" y="736" width="10" height="44" fill="rgb(69,150,130)"/>
<rect x="2220" y="718" width="2" height="35" fill="rgb(69,150,130)"/>
<rect x="2216" y="722" width="10" height="31" fill="rgb(69,150,130)"/>
<rect x="2233" y="710" width="2" height="36" fill="rgb(224,73,79)"/>
<rect x="2229" y="719" width="10" height="24" fill="rgb(224,73,79)"/>
<rect x="2246" y="746" width="2" height="29" fill="rgb(69,150,130)"/>
<rect x="2242" y="758" width="10" height="5" fill="rgb(69,150,130)"/>
<rect x="2259" y="756" width="2" height="22" fill="rgb(224,73,79)"/>
<rect x="2255" y="756" width="10" height="16" fill="rgb(224,73,79)"/>
<rect x="2272" y="763" width="2" height="2" fill="rgb(69,150,130)"/>
<rect x="2268" y="763" width="10" height="2" fill="rgb(69,150,130)"/>
</g>
<rect x="0" y="0" width="1420" height="62" fill="#fff" fill-opacity="0.35"/>
<rect x="0" y="57" width="425" height="59" fill="#fff" fill-opacity="0.35"/>
<rect x="0" y="114" width="91" height="48" fill="#fff" fill-opacity="0.35"/>
<!-- header -->
<g>
<circle cx="31.9" cy="27.9" r="17.9" fill="#30456f"/>
<circle cx="31.8" cy="28" r="10.1" fill="#fff"/>
<path d="M22 28.6 L26.4 28.6 L31.4 23 L41.8 23 L41.8 24.2 L31.9 24.2 L26.9 29.8 L22 29.8 Z" fill="#30456f"/>
<path d="M22 30.4 L28.5 30.4 L33.8 25.2 L41.9 25.2 L41.9 26.3 L34.3 26.3 L29.5 31.4 L22 31.4 Z" fill="#30456f" fill-opacity="0.85"/>
<path d="M38.6 26.3 L41.9 26.3 L41.9 30.6 L38.6 30.6 Z" fill="#c9d0dd"/>
<path d="M34.9 30.6 L38.6 26.9 L41 26.9 L37.4 30.6 Z" fill="#30456f"/>
<text x="59" y="40.1" font-size="33" fill="#131722" text-anchor="start" font-weight="normal" textLength="425" lengthAdjust="spacingAndGlyphs" >SSE COMPOSITE INDEX · 1 · SSE</text>
<path d="M533 10.2 H555.2 V45.6 H533 A17.7 17.7 0 0 1 533 10.2 Z" fill="#e3f2ef"/>
<path d="M555.2 10.2 H577.2 A17.7 17.7 0 0 1 577.2 45.6 H555.2 Z" fill="#fdeee0"/>
<circle cx="537.2" cy="28" r="8" fill="rgb(69,150,130)"/>
<text x="566" y="37.6" font-size="27" fill="#e8832a" text-anchor="start" font-weight="bold" textLength="14.5" lengthAdjust="spacingAndGlyphs" >D</text>
<text x="627" y="36.6" font-size="25" fill="#131722" text-anchor="start" font-weight="normal" textLength="17" lengthAdjust="spacingAndGlyphs" >O</text>
<text x="648" y="36.6" font-size="25" fill="rgb(69,150,130)" text-anchor="start" font-weight="normal" textLength="117" lengthAdjust="spacingAndGlyphs" >3136.7637</text>
<text x="777.5" y="36.6" font-size="25" fill="#131722" text-anchor="start" font-weight="normal" textLength="15" lengthAdjust="spacingAndGlyphs" >H</text>
<text x="797" y="36.6" font-size="25" fill="rgb(69,150,130)" text-anchor="start" font-weight="normal" textLength="117" lengthAdjust="spacingAndGlyphs" >3136.7637</text>
<text x="927" y="36.6" font-size="25" fill="#131722" text-anchor="start" font-weight="normal" textLength="12.5" lengthAdjust="spacingAndGlyphs" >L</text>
<text x="943" y="36.6" font-size="25" fill="rgb(69,150,130)" text-anchor="start" font-weight="normal" textLength="117" lengthAdjust="spacingAndGlyphs" >3136.7637</text>
<text x="1072.5" y="36.6" font-size="25" fill="#131722" text-anchor="start" font-weight="normal" textLength="15" lengthAdjust="spacingAndGlyphs" >C</text>
<text x="1091" y="36.6" font-size="25" fill="rgb(69,150,130)" text-anchor="start" font-weight="normal" textLength="116" lengthAdjust="spacingAndGlyphs" >3136.7637</text>
<text x="1221" y="36.6" font-size="25" fill="rgb(69,150,130)" text-anchor="start" font-weight="normal" textLength="197" lengthAdjust="spacingAndGlyphs" >+0.1058 (+0.00%)</text>
<rect x="13.6" y="61.4" width="147.8" height="44.8" rx="6" fill="#fff" stroke="#e0444e" stroke-width="2"/>
<text x="29.5" y="93" font-size="26" fill="#e0444e" text-anchor="start" font-weight="normal" textLength="116.5" lengthAdjust="spacingAndGlyphs" >3136.7637</text>
<text x="180" y="93" font-size="26" fill="#131722" text-anchor="start" font-weight="normal" textLength="69.5" lengthAdjust="spacingAndGlyphs" >0.0000</text>
<rect x="267.5" y="61.4" width="147.5" height="44.8" rx="6" fill="#fff" stroke="#2f5ef0" stroke-width="2"/>
<text x="283.5" y="93" font-size="26" fill="#2f5ef0" text-anchor="start" font-weight="normal" textLength="116.5" lengthAdjust="spacingAndGlyphs" >3136.7637</text>
<text x="14.6" y="148.7" font-size="25" fill="#131722" text-anchor="start" font-weight="normal" textLength="33.5" lengthAdjust="spacingAndGlyphs" >Vol</text>
<text x="65.5" y="148.7" font-size="25" fill="#4fa394" text-anchor="start" font-weight="normal" textLength="13" lengthAdjust="spacingAndGlyphs" >0</text>
<rect x="15.3" y="169.4" width="55.2" height="39" rx="6" fill="#fff" stroke="#d1d4dc" stroke-width="1.6"/>
<path d="M35 192.5 L42.8 185 L50.6 192.5" stroke="#131722" stroke-width="2.6" fill="none"/>
</g>
<text x="2428" y="946.8" font-size="23" fill="#131722" text-anchor="start" font-weight="normal" textLength="109" lengthAdjust="spacingAndGlyphs" >3134.0000</text>
<text x="2428" y="884.0" font-size="23" fill="#131722" text-anchor="start" font-weight="normal" textLength="109" lengthAdjust="spacingAndGlyphs" >3135.0000</text>
<text x="2428" y="821.2" font-size="23" fill="#131722" text-anchor="start" font-weight="normal" textLength="109" lengthAdjust="spacingAndGlyphs" >3136.0000</text>
<text x="2428" y="758.4" font-size="23" fill="#131722" text-anchor="start" font-weight="normal" textLength="109" lengthAdjust="spacingAndGlyphs" >3137.0000</text>
<text x="2428" y="695.7" font-size="23" fill="#131722" text-anchor="start" font-weight="normal" textLength="109" lengthAdjust="spacingAndGlyphs" >3138.0000</text>
<text x="2428" y="632.9" font-size="23" fill="#131722" text-anchor="start" font-weight="normal" textLength="109" lengthAdjust="spacingAndGlyphs" >3139.0000</text>
<text x="2428" y="570.1" font-size="23" fill="#131722" text-anchor="start" font-weight="normal" textLength="109" lengthAdjust="spacingAndGlyphs" >3140.0000</text>
<text x="2428" y="507.3" font-size="23" fill="#131722" text-anchor="start" font-weight="normal" textLength="109" lengthAdjust="spacingAndGlyphs" >3141.0000</text>
<text x="2428" y="444.5" font-size="23" fill="#131722" text-anchor="start" font-weight="normal" textLength="109" lengthAdjust="spacingAndGlyphs" >3142.0000</text>
<text x="2428" y="381.7" font-size="23" fill="#131722" text-anchor="start" font-weight="normal" textLength="109" lengthAdjust="spacingAndGlyphs" >3143.0000</text>
<text x="2428" y="318.9" font-size="23" fill="#131722" text-anchor="start" font-weight="normal" textLength="109" lengthAdjust="spacingAndGlyphs" >3144.0000</text>
<text x="2428" y="256.2" font-size="23" fill="#131722" text-anchor="start" font-weight="normal" textLength="109" lengthAdjust="spacingAndGlyphs" >3145.0000</text>
<text x="2428" y="193.4" font-size="23" fill="#131722" text-anchor="start" font-weight="normal" textLength="109" lengthAdjust="spacingAndGlyphs" >3146.0000</text>
<text x="2428" y="130.6" font-size="23" fill="#131722" text-anchor="start" font-weight="normal" textLength="109" lengthAdjust="spacingAndGlyphs" >3147.0000</text>
<text x="2428" y="67.8" font-size="23" fill="#131722" text-anchor="start" font-weight="normal" textLength="109" lengthAdjust="spacingAndGlyphs" >3148.0000</text>
<text x="2428" y="5.0" font-size="23" fill="#131722" text-anchor="start" font-weight="normal" textLength="109" lengthAdjust="spacingAndGlyphs" >3149.0000</text>
<rect x="2412" y="747" width="136" height="62" rx="4" fill="rgb(69,150,130)"/>
<rect x="2412" y="747" width="8" height="62" fill="rgb(69,150,130)"/>
<text x="2428.5" y="772.7" font-size="23" fill="#fff" text-anchor="start" font-weight="normal" textLength="109" lengthAdjust="spacingAndGlyphs" stroke="#fff" stroke-width="0.45">3136.7637</text>
<text x="2428.5" y="800.5" font-size="23" fill="rgba(255,255,255,0.72)" text-anchor="start" font-weight="normal" textLength="56" lengthAdjust="spacingAndGlyphs" >00:51</text>
<defs><clipPath id="tclip"><rect x="0" y="0" width="2412" height="1058"/></clipPath></defs>
<g clip-path="url(#tclip)"><text x="3.5" y="1037" font-size="23" fill="#131722" text-anchor="start" font-weight="bold" textLength="12" lengthAdjust="spacingAndGlyphs" >2</text>
<text x="200.5" y="1037" font-size="23" fill="#131722" text-anchor="middle" font-weight="normal" textLength="58" lengthAdjust="spacingAndGlyphs" >09:45</text>
<text x="398.6" y="1037" font-size="23" fill="#131722" text-anchor="middle" font-weight="normal" textLength="58" lengthAdjust="spacingAndGlyphs" >10:00</text>
<text x="596.6" y="1037" font-size="23" fill="#131722" text-anchor="middle" font-weight="normal" textLength="58" lengthAdjust="spacingAndGlyphs" >10:15</text>
<text x="794.7" y="1037" font-size="23" fill="#131722" text-anchor="middle" font-weight="normal" textLength="58" lengthAdjust="spacingAndGlyphs" >10:30</text>
<text x="992.7" y="1037" font-size="23" fill="#131722" text-anchor="middle" font-weight="normal" textLength="58" lengthAdjust="spacingAndGlyphs" >10:45</text>
<text x="1190.8" y="1037" font-size="23" fill="#131722" text-anchor="middle" font-weight="normal" textLength="58" lengthAdjust="spacingAndGlyphs" >11:00</text>
<text x="1388.8" y="1037" font-size="23" fill="#131722" text-anchor="middle" font-weight="normal" textLength="58" lengthAdjust="spacingAndGlyphs" >11:15</text>
<text x="1600.1" y="1037" font-size="23" fill="#131722" text-anchor="middle" font-weight="normal" textLength="58" lengthAdjust="spacingAndGlyphs" >13:00</text>
<text x="1798.1" y="1037" font-size="23" fill="#131722" text-anchor="middle" font-weight="normal" textLength="58" lengthAdjust="spacingAndGlyphs" >13:15</text>
<text x="1996.2" y="1037" font-size="23" fill="#131722" text-anchor="middle" font-weight="normal" textLength="58" lengthAdjust="spacingAndGlyphs" >13:30</text>
<text x="2194.2" y="1037" font-size="23" fill="#131722" text-anchor="middle" font-weight="normal" textLength="58" lengthAdjust="spacingAndGlyphs" >13:45</text>
<text x="2392.2" y="1037" font-size="23" fill="#131722" text-anchor="middle" font-weight="normal" textLength="58" lengthAdjust="spacingAndGlyphs" >14:00</text></g>
<rect x="0" y="1056" width="2556" height="2" fill="#e0e3eb"/>
<!-- tradingview logo -->
<g fill="#131722">
<path d="M20 942.3 H44 V972 H32 V954 H20 Z"/>
<circle cx="54.3" cy="947.5" r="6.2"/>
<path d="M68.6 942 H79.8 L68.2 971.8 H54 Z"/>
<rect x="94.1" y="941.9" width="21.7" height="5.9"/>
<rect x="102.2" y="941.9" width="5.8" height="29.9"/>
</g>
<g fill="none" stroke="#131722" stroke-width="5.8">
<path d="M118.75 971.8 V959.5 Q118.75 953.1 124.8 953.1 H129.3"/>
<circle cx="140.9" cy="961" r="8"/>
<circle cx="166.9" cy="961" r="8"/>
<path d="M194.8 971.8 V959.5 A6.4 6.4 0 0 1 207.6 959.5 V971.8"/>
<circle cx="226.3" cy="961" r="8"/>
<path d="M234.6 950.2 V972.5 Q234.6 978.4 226.5 978.4 Q221.5 978.4 218.3 975.6"/>
<path d="M282.3 961 H298.1 A7.9 7.9 0 1 0 295.8 966.6"/>
</g>
<g fill="#131722">
<rect x="146" y="950.2" width="5.8" height="21.6"/>
<rect x="172.1" y="941.9" width="5.8" height="29.9"/>
<rect x="181.9" y="950.2" width="5.8" height="21.6"/>
<circle cx="184.8" cy="944.6" r="3.2"/>
<rect x="191.9" y="950.2" width="5.8" height="21.6"/>
<path d="M237.5 941.9 H244.3 L252.35 964 L260.4 941.9 H267.2 L256.4 971.8 H248.3 Z"/>
<rect x="269.9" y="950.2" width="5.8" height="21.6"/>
<circle cx="272.8" cy="944.6" r="3.2"/>
<path d="M301 950.2 H306.9 L310.9 964.2 L315.6 950.2 H321.2 L325.9 964.2 L329.9 950.2 H335.8 L328.9 971.8 H323.1 L318.4 958 L313.7 971.8 H307.9 Z"/>
</g>
<!-- lightning -->
<circle cx="2273" cy="975" r="19.5" fill="none" stroke="#8e2fa6" stroke-width="2.7"/>
<path d="M2278.4 964.2 L2264.2 975.4 L2272.2 975.4 L2266.2 984.8 L2267.5 986.1 L2281.8 974.3 L2274 974.3 L2279.9 965.6 Z" fill="#8e2fa6"/>
<!-- settings hex -->
<path d="M2470.8 1028.9 L2477.6 1017 L2492.4 1017 L2499.2 1028.9 L2492.4 1040.8 L2477.6 1040.8 Z" fill="none" stroke="#131722" stroke-width="2.3"/>
<circle cx="2485" cy="1028.9" r="4.3" fill="none" stroke="#131722" stroke-width="2"/>
</svg>
</body></html>
